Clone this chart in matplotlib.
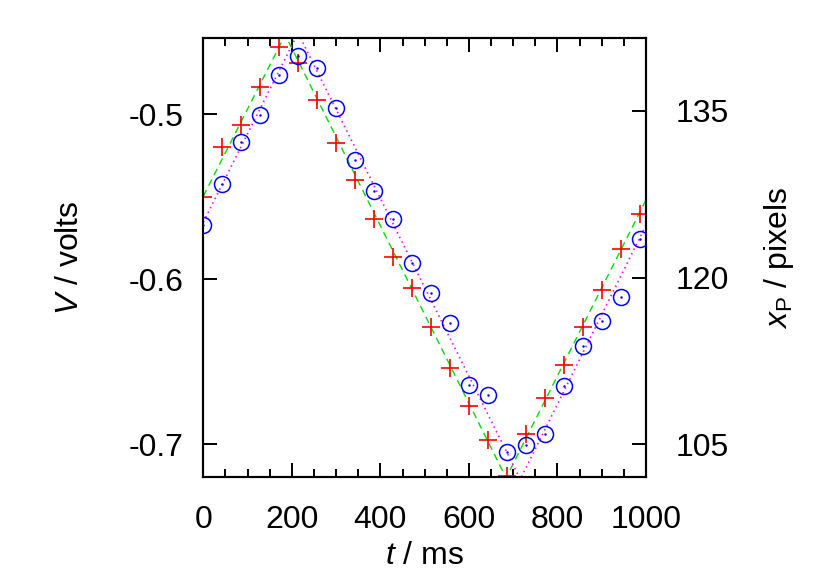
import numpy as np
import matplotlib
matplotlib.use("Agg")
import matplotlib.pyplot as plt
from matplotlib.ticker import MultipleLocator

plt.rcParams['font.family'] = ['Liberation Sans', 'DejaVu Sans']
plt.rcParams['mathtext.fontset'] = 'custom'
plt.rcParams['mathtext.rm'] = 'Liberation Sans'
plt.rcParams['mathtext.it'] = 'Liberation Sans:italic'

# sample times (ms)
t_ms = [0, 43, 86, 129, 172, 214, 257, 300, 343, 386, 429, 472,
        515, 558, 601, 644, 686, 729, 772, 815, 858, 901, 944, 987]

# measured voltage (red +)
volts = [-0.5503, -0.5200, -0.5067, -0.4836, -0.4594, -0.4691, -0.4915, -0.5176,
         -0.5400, -0.5636, -0.5867, -0.6055, -0.6291, -0.6539, -0.6770, -0.6976,
         -0.7190, -0.6939, -0.6721, -0.6521, -0.6291, -0.6067, -0.5818, -0.5606]

# tracked position (blue circles)
xp_pixels = [124.71, 128.40, 132.18, 134.61, 138.21, 139.92, 138.84, 135.24,
             130.56, 127.77, 125.25, 121.29, 118.59, 115.89, 110.31, 109.41,
             104.28, 104.91, 105.90, 110.22, 113.82, 116.07, 118.23, 123.45]

# triangle-wave fits
fit_v_t = [0, 185, 684, 1000]
fit_v = [-0.5497, -0.4520, -0.7203, -0.5520]
fit_xp_t = [0, 214, 716, 1000]
fit_xp = [124.98, 141.99, 101.85, 124.71]

W, H = 830, 581
fig = plt.figure(figsize=(W / 100, H / 100), dpi=100)
ax = fig.add_axes([203.3 / W, 1 - 477 / H, (646 - 203.3) / W, (477 - 38) / H])
ax2 = ax.twinx()

fs = 23

ax.plot(fit_v_t, fit_v, color='#00dd00', lw=1.0, dashes=(5, 3.5), zorder=2)
ax.plot(t_ms, volts, ls='none', marker='+', ms=13, mew=1.2, color='#ff0000', zorder=3)

ax2.plot(fit_xp_t, fit_xp, color='#ff00ff', lw=1.2, dashes=(0.9, 2.2), zorder=2)
ax2.plot(t_ms, xp_pixels, ls='none', marker='o', ms=11.5, mfc='none', mew=1.1,
         color='#0000ff', zorder=3)
ax2.plot(t_ms, xp_pixels, ls='none', marker='.', ms=1.5, color='#0000ff', zorder=3)

ax.set_xlim(0, 1000)
ax.set_ylim(-0.7198, -0.4539)
ax2.set_ylim(102.06, 141.54)

ax.xaxis.set_major_locator(MultipleLocator(200))
ax.xaxis.set_minor_locator(MultipleLocator(50))
ax.set_yticks([-0.5, -0.6, -0.7])
ax.set_yticklabels(['-0.5', '-0.6', '-0.7'])
ax2.set_yticks([105, 120, 135])

ax.tick_params(axis='x', which='major', direction='in', length=10, width=1.4,
               top=True, labelsize=fs, pad=20)
ax.tick_params(axis='x', which='minor', direction='in', length=5.5, width=1.4, top=True)
ax.tick_params(axis='y', which='major', direction='in', length=10, width=1.4,
               right=False, labelsize=fs, pad=14)
ax2.tick_params(axis='y', which='major', direction='in', length=10, width=1.4,
                labelsize=fs, pad=21)

for a in (ax, ax2):
    for s in a.spines.values():
        s.set_linewidth(1.5)

ax.set_xlabel(r'$t$ / ms', fontsize=fs, va='center')
ax.xaxis.set_label_coords(0.5, -0.18)
ax.set_ylabel(r'$V$ / volts', fontsize=fs, va='center')
ax.yaxis.set_label_coords(-0.30, 0.5)
ax2.set_ylabel(r'$x_{\mathrm{P}}$ / pixels', fontsize=fs, va='center', rotation=90)
ax2.yaxis.set_label_coords(1.3, 0.5)

fig.savefig('out.png', dpi=100)
